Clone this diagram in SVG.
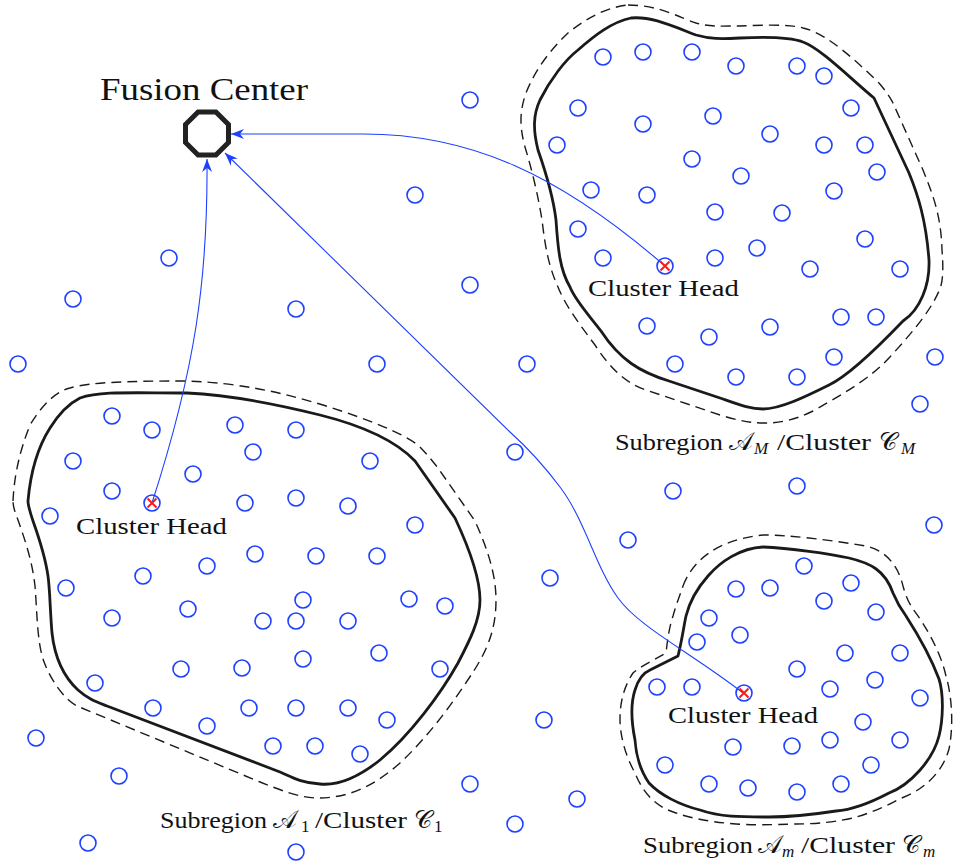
<svg xmlns="http://www.w3.org/2000/svg" width="954" height="865" viewBox="0 0 954 865">
<style>
.s{fill:none;stroke:#1e40ff;stroke-width:1.6}
.b{fill:none;stroke:#1a1a1a;stroke-width:2.8;stroke-linejoin:round}
.d{fill:none;stroke:#1a1a1a;stroke-width:1.4;stroke-dasharray:10 6}
.ln{fill:none;stroke:#1e40ff;stroke-width:1.1;marker-end:url(#ah)}
.x{stroke:#ff1a1a;stroke-width:2}
text{fill:#111}
</style>
<defs>
<marker id="ah" markerUnits="userSpaceOnUse" markerWidth="14" markerHeight="12" refX="13" refY="6" orient="auto" viewBox="0 0 14 12">
<path d="M13,6 L0,1 L4,6 L0,11 Z" fill="#1e40ff"/>
</marker>
</defs>

<g id="cluster-1">
<path class="d" d="M13,501 C14,480 18,455 30,425 C45,400 60,390 70,388 C90,382 130,381 187,381 C240,383 280,392 323,405 C370,420 400,432 418,445 C428,455 433,462 438,468 L475,521 C488,550 496,575 496,600 C496,625 490,645 475,669 C455,700 430,735 400,763 C375,785 350,798 318,798 C300,798 280,790 260,782 L77,706 C65,700 50,680 43,659 C37,640 37,610 35,586 C32,560 25,540 18,520 C14,510 13,505 13,501 Z"/>
<path class="b" d="M28,501 C30,478 36,450 50,428 C60,412 70,403 80,398 C100,391 130,393 187,393 C230,395 280,405 320,415 C360,425 395,440 415,461 L455,518 C470,550 480,580 480,600 C480,620 470,640 458,663 C440,695 410,735 380,760 C360,776 340,786 320,784 C300,783 290,776 280,772 L107,706 C97,702 88,699 78,690 C65,678 55,660 52,633 C50,610 50,590 48,576 C45,555 38,535 33,521 C30,512 28,506 28,501 Z"/>
<g>
<circle class="s" cx="112" cy="416" r="8"/><circle class="s" cx="152" cy="430" r="8"/><circle class="s" cx="235" cy="425" r="8"/><circle class="s" cx="296" cy="430" r="8"/>
<circle class="s" cx="73" cy="461" r="8"/><circle class="s" cx="253" cy="452" r="8"/><circle class="s" cx="370" cy="461" r="8"/><circle class="s" cx="193" cy="474" r="8"/>
<circle class="s" cx="112" cy="491" r="8"/><circle class="s" cx="245" cy="503" r="8"/><circle class="s" cx="296" cy="498" r="8"/><circle class="s" cx="348" cy="506" r="8"/>
<circle class="s" cx="50" cy="516" r="8"/><circle class="s" cx="415" cy="525" r="8"/><circle class="s" cx="255" cy="554" r="8"/><circle class="s" cx="316" cy="556" r="8"/>
<circle class="s" cx="377" cy="556" r="8"/><circle class="s" cx="207" cy="566" r="8"/><circle class="s" cx="143" cy="576" r="8"/><circle class="s" cx="66" cy="588" r="8"/>
<circle class="s" cx="112" cy="618" r="8"/><circle class="s" cx="188" cy="609" r="8"/><circle class="s" cx="263" cy="621" r="8"/><circle class="s" cx="296" cy="621" r="8"/>
<circle class="s" cx="303" cy="600" r="8"/><circle class="s" cx="409" cy="599" r="8"/><circle class="s" cx="445" cy="606" r="8"/><circle class="s" cx="348" cy="621" r="8"/>
<circle class="s" cx="379" cy="653" r="8"/><circle class="s" cx="303" cy="659" r="8"/><circle class="s" cx="181" cy="669" r="8"/><circle class="s" cx="242" cy="668" r="8"/>
<circle class="s" cx="440" cy="669" r="8"/><circle class="s" cx="95" cy="683" r="8"/><circle class="s" cx="153" cy="708" r="8"/><circle class="s" cx="249" cy="708" r="8"/>
<circle class="s" cx="296" cy="708" r="8"/><circle class="s" cx="348" cy="708" r="8"/><circle class="s" cx="207" cy="726" r="8"/><circle class="s" cx="387" cy="720" r="8"/>
<circle class="s" cx="273" cy="746" r="8"/><circle class="s" cx="315" cy="746" r="8"/><circle class="s" cx="360" cy="754" r="8"/>
</g>
<g id="label-1" font-family="'Liberation Serif','DejaVu Serif',serif" font-size="24">
<text x="160" y="828" textLength="107" lengthAdjust="spacingAndGlyphs">Subregion</text>
<text x="273" y="828" font-size="25">𝒜</text>
<text x="301" y="832" font-size="17">1</text>
<text x="315" y="828" textLength="92" lengthAdjust="spacingAndGlyphs">/Cluster</text>
<text x="414" y="828" font-size="25">𝒞</text>
<text x="434" y="832" font-size="17">1</text>
</g>
</g>

<g id="cluster-M">
<path class="d" d="M628,5 C660,5 680,18 696,23 C710,27 720,26 740,26 C760,25 790,24 803,28 C820,32 840,45 879,83 C885,90 890,97 893,103 L923,170 C933,195 941,215 942,250 C944,275 942,285 939,291 C930,312 910,335 889,358 C870,378 850,390 813,411 C795,420 780,423 765,423 C750,423 740,421 720,415 L646,390 C625,383 610,368 595,345 C580,325 565,305 558,287 C548,265 545,245 542,220 C538,195 532,170 525,147 C519,125 520,110 526,93 C535,70 550,50 568,33 C590,15 610,7 628,5 Z"/>
<path class="b" d="M631,18 C650,16 670,25 696,35 C710,39 720,39 740,38 C760,37 790,37 803,42 C820,48 850,78 874,98 L909,173 C918,195 926,220 929,260 C930,285 920,310 903,321 C880,345 850,375 829,385 C805,397 780,409 763,409 C750,409 740,405 720,398 L669,381 C640,372 620,360 601,331 C588,314 575,300 570,287 C560,270 558,250 556,220 C553,195 545,170 538,150 C533,130 533,115 540,100 C550,80 565,60 578,50 C595,35 612,22 631,18 Z"/>
<g>
<circle class="s" cx="603" cy="57" r="8"/><circle class="s" cx="643" cy="52" r="8"/><circle class="s" cx="692" cy="52" r="8"/><circle class="s" cx="736" cy="66" r="8"/>
<circle class="s" cx="797" cy="66" r="8"/><circle class="s" cx="824" cy="76" r="8"/><circle class="s" cx="578" cy="108" r="8"/><circle class="s" cx="851" cy="108" r="8"/>
<circle class="s" cx="643" cy="124" r="8"/><circle class="s" cx="713" cy="116" r="8"/><circle class="s" cx="770" cy="134" r="8"/><circle class="s" cx="557" cy="145" r="8"/>
<circle class="s" cx="824" cy="145" r="8"/><circle class="s" cx="865" cy="145" r="8"/><circle class="s" cx="692" cy="159" r="8"/><circle class="s" cx="877" cy="172" r="8"/>
<circle class="s" cx="741" cy="176" r="8"/><circle class="s" cx="591" cy="190" r="8"/><circle class="s" cx="647" cy="195" r="8"/><circle class="s" cx="834" cy="191" r="8"/>
<circle class="s" cx="715" cy="212" r="8"/><circle class="s" cx="782" cy="213" r="8"/><circle class="s" cx="578" cy="229" r="8"/><circle class="s" cx="865" cy="239" r="8"/>
<circle class="s" cx="757" cy="248" r="8"/><circle class="s" cx="603" cy="258" r="8"/><circle class="s" cx="715" cy="258" r="8"/><circle class="s" cx="810" cy="269" r="8"/>
<circle class="s" cx="900" cy="269" r="8"/><circle class="s" cx="647" cy="326" r="8"/><circle class="s" cx="709" cy="337" r="8"/><circle class="s" cx="770" cy="327" r="8"/>
<circle class="s" cx="841" cy="317" r="8"/><circle class="s" cx="876" cy="317" r="8"/><circle class="s" cx="675" cy="364" r="8"/><circle class="s" cx="736" cy="377" r="8"/>
<circle class="s" cx="797" cy="377" r="8"/><circle class="s" cx="834" cy="357" r="8"/>
</g>
<g id="label-M" font-family="'Liberation Serif','DejaVu Serif',serif" font-size="24">
<text x="615" y="450" textLength="108" lengthAdjust="spacingAndGlyphs">Subregion</text>
<text x="729" y="450" font-size="25">𝒜</text>
<text x="754" y="454" font-size="17" font-style="italic">M</text>
<text x="777" y="450" textLength="94" lengthAdjust="spacingAndGlyphs">/Cluster</text>
<text x="879" y="450" font-size="25">𝒞</text>
<text x="901" y="454" font-size="17" font-style="italic">M</text>
</g>
</g>

<g id="cluster-m">
<path class="d" d="M683,586 C692,562 715,540 763,535 C790,535 830,540 866,546 C885,550 898,565 903,586 C906,597 909,603 913,609 C925,625 940,650 946,676 C953,700 953,730 949,749 C942,775 920,792 899,799 C880,810 860,816 853,818 C830,823 810,824 796,824 C770,825 750,825 736,824 C710,822 690,818 676,813 C660,808 645,798 635,773 C625,755 620,735 620,719 C620,700 625,685 633,673 C640,667 650,662 666,653 C668,635 670,625 673,616 C676,605 680,595 683,586 Z"/>
<path class="b" d="M708,576 C720,562 740,548 763,547 C790,548 830,554 849,558 C870,563 885,570 893,593 C898,605 903,612 906,616 C915,630 930,655 939,679 C944,695 943,720 939,736 C933,760 910,785 889,793 C870,803 850,810 836,811 C810,815 790,817 769,817 C740,817 720,817 700,810 C680,805 660,795 649,783 C640,770 636,755 635,740 C632,725 630,705 635,690 C638,680 643,673 650,670 L678,656 C682,640 684,625 686,616 C690,600 700,585 708,576 Z"/>
<g>
<circle class="s" cx="804" cy="566" r="8"/><circle class="s" cx="736" cy="589" r="8"/><circle class="s" cx="770" cy="588" r="8"/><circle class="s" cx="851" cy="583" r="8"/>
<circle class="s" cx="824" cy="601" r="8"/><circle class="s" cx="709" cy="618" r="8"/><circle class="s" cx="876" cy="612" r="8"/><circle class="s" cx="740" cy="635" r="8"/>
<circle class="s" cx="697" cy="642" r="8"/><circle class="s" cx="845" cy="653" r="8"/><circle class="s" cx="900" cy="653" r="8"/><circle class="s" cx="797" cy="669" r="8"/>
<circle class="s" cx="875" cy="680" r="8"/><circle class="s" cx="830" cy="689" r="8"/><circle class="s" cx="657" cy="687" r="8"/><circle class="s" cx="692" cy="687" r="8"/>
<circle class="s" cx="920" cy="698" r="8"/><circle class="s" cx="863" cy="722" r="8"/><circle class="s" cx="733" cy="747" r="8"/><circle class="s" cx="792" cy="746" r="8"/>
<circle class="s" cx="830" cy="740" r="8"/><circle class="s" cx="900" cy="740" r="8"/><circle class="s" cx="665" cy="765" r="8"/><circle class="s" cx="871" cy="765" r="8"/>
<circle class="s" cx="709" cy="784" r="8"/><circle class="s" cx="748" cy="788" r="8"/><circle class="s" cx="797" cy="792" r="8"/><circle class="s" cx="841" cy="784" r="8"/>
</g>
<g id="label-m" font-family="'Liberation Serif','DejaVu Serif',serif" font-size="24">
<text x="643" y="853" textLength="110" lengthAdjust="spacingAndGlyphs">Subregion</text>
<text x="758" y="853" font-size="25">𝒜</text>
<text x="782" y="857" font-size="17" font-style="italic">m</text>
<text x="801" y="853" textLength="94" lengthAdjust="spacingAndGlyphs">/Cluster</text>
<text x="902" y="853" font-size="25">𝒞</text>
<text x="923" y="857" font-size="17" font-style="italic">m</text>
</g>
</g>

<g id="free-sensors">
<circle class="s" cx="470" cy="100" r="8"/><circle class="s" cx="415" cy="195" r="8"/><circle class="s" cx="169" cy="258" r="8"/><circle class="s" cx="73" cy="299" r="8"/>
<circle class="s" cx="470" cy="285" r="8"/><circle class="s" cx="296" cy="309" r="8"/><circle class="s" cx="18" cy="364" r="8"/><circle class="s" cx="377" cy="364" r="8"/>
<circle class="s" cx="527" cy="364" r="8"/><circle class="s" cx="515" cy="452" r="8"/><circle class="s" cx="673" cy="491" r="8"/><circle class="s" cx="797" cy="486" r="8"/>
<circle class="s" cx="934" cy="525" r="8"/><circle class="s" cx="628" cy="540" r="8"/><circle class="s" cx="550" cy="578" r="8"/><circle class="s" cx="920" cy="404" r="8"/>
<circle class="s" cx="935" cy="357" r="8"/><circle class="s" cx="544" cy="720" r="8"/><circle class="s" cx="36" cy="738" r="8"/><circle class="s" cx="119" cy="776" r="8"/>
<circle class="s" cx="470" cy="784" r="8"/><circle class="s" cx="577" cy="799" r="8"/><circle class="s" cx="515" cy="824" r="8"/><circle class="s" cx="88" cy="843" r="8"/>
<circle class="s" cx="296" cy="852" r="8"/>
</g>

<g id="connectors">
<path class="ln" d="M152,503 C195,370 208,280 207,159"/>
<path class="ln" d="M665,266 C560,175 470,133 360,134 L231,134"/>
<path class="ln" d="M743,693 C690,652 640,628 618,598 C596,568 585,520 560,487 C545,467 530,450 510,432 L225,153"/>
</g>

<g id="fusion-center">
<polygon points="228.5,124.6 215.9,112 198.1,112 185.5,124.6 185.5,142.4 198.1,155 215.9,155 228.5,142.4" fill="#fff" stroke="#222" stroke-width="5"/>
<text x="100" y="100" font-family="'Liberation Serif','DejaVu Serif',serif" font-size="32" textLength="208" lengthAdjust="spacingAndGlyphs">Fusion Center</text>
</g>

<g id="head-1">
<circle class="s" cx="152" cy="503" r="8"/>
<path class="x" d="M147.5,498.5 L156.5,507.5 M156.5,498.5 L147.5,507.5"/>
<text x="76" y="534" font-family="'Liberation Serif','DejaVu Serif',serif" font-size="24" textLength="151" lengthAdjust="spacingAndGlyphs">Cluster Head</text>
</g>
<g id="head-M">
<circle class="s" cx="665" cy="266" r="8"/>
<path class="x" d="M660.5,261.5 L669.5,270.5 M669.5,261.5 L660.5,270.5"/>
<text x="588" y="296" font-family="'Liberation Serif','DejaVu Serif',serif" font-size="24" textLength="151" lengthAdjust="spacingAndGlyphs">Cluster Head</text>
</g>
<g id="head-m">
<circle class="s" cx="744" cy="693" r="8"/>
<path class="x" d="M739.5,688.5 L748.5,697.5 M748.5,688.5 L739.5,697.5"/>
<text x="668" y="723" font-family="'Liberation Serif','DejaVu Serif',serif" font-size="24" textLength="150" lengthAdjust="spacingAndGlyphs">Cluster Head</text>
</g>
</svg>
